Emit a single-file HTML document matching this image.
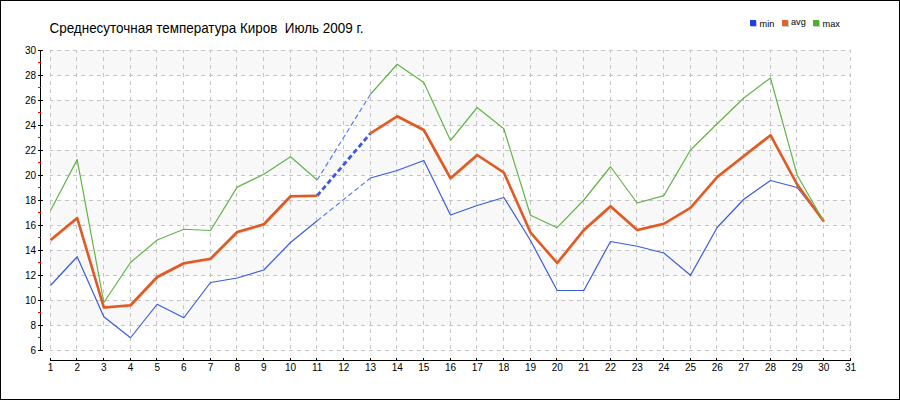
<!DOCTYPE html><html><head><meta charset="utf-8"><style>html,body{margin:0;padding:0;background:#fff}body{width:900px;height:400px;overflow:hidden;position:relative}svg{display:block}text{font-family:"Liberation Sans",sans-serif}</style></head><body>
<svg width="900" height="400" viewBox="0 0 900 400">
<rect x="0" y="0" width="900" height="400" fill="#fff"/>
<rect x="0.5" y="0.5" width="899" height="399" fill="none" stroke="#000" stroke-width="1" shape-rendering="crispEdges"/>
<rect x="50" y="50" width="800" height="25" fill="#f8f8f8" shape-rendering="crispEdges"/>
<rect x="50" y="100" width="800" height="25" fill="#f8f8f8" shape-rendering="crispEdges"/>
<rect x="50" y="150" width="800" height="25" fill="#f8f8f8" shape-rendering="crispEdges"/>
<rect x="50" y="200" width="800" height="25" fill="#f8f8f8" shape-rendering="crispEdges"/>
<rect x="50" y="250" width="800" height="25" fill="#f8f8f8" shape-rendering="crispEdges"/>
<rect x="50" y="300" width="800" height="25" fill="#f8f8f8" shape-rendering="crispEdges"/>
<path d="M50,50.5H851M50,75.5H851M50,100.5H851M50,125.5H851M50,150.5H851M50,175.5H851M50,200.5H851M50,225.5H851M50,250.5H851M50,275.5H851M50,300.5H851M50,325.5H851M50,350.5H851M50.5,50V351M76.5,50V351M103.5,50V351M130.5,50V351M156.5,50V351M183.5,50V351M210.5,50V351M236.5,50V351M263.5,50V351M290.5,50V351M316.5,50V351M343.5,50V351M370.5,50V351M396.5,50V351M423.5,50V351M450.5,50V351M476.5,50V351M503.5,50V351M530.5,50V351M556.5,50V351M583.5,50V351M610.5,50V351M636.5,50V351M663.5,50V351M690.5,50V351M716.5,50V351M743.5,50V351M770.5,50V351M796.5,50V351M823.5,50V351M850.5,50V351" stroke="#c4c4c4" stroke-width="1" stroke-dasharray="4 4" stroke-dashoffset="1" fill="none" shape-rendering="crispEdges"/>
<rect x="40" y="40" width="10" height="10" fill="#fff"/>
<path d="M40.5,50V351M38,50.5H43M38,75.5H43M38,100.5H43M38,125.5H43M38,150.5H43M38,175.5H43M38,200.5H43M38,225.5H43M38,250.5H43M38,275.5H43M38,300.5H43M38,325.5H43M38,350.5H43" stroke="#000" stroke-width="1" fill="none" shape-rendering="crispEdges"/>
<path d="M38,62.5H41M38,87.5H41M38,112.5H41M38,137.5H41M38,162.5H41M38,187.5H41M38,212.5H41M38,237.5H41M38,262.5H41M38,287.5H41M38,312.5H41M38,337.5H41" stroke="#f00" stroke-width="1" fill="none" shape-rendering="crispEdges"/>
<path d="M50,360.5H851M50.5,358V361M76.5,358V361M103.5,358V361M130.5,358V361M156.5,358V361M183.5,358V361M210.5,358V361M236.5,358V361M263.5,358V361M290.5,358V361M316.5,358V361M343.5,358V361M370.5,358V361M396.5,358V361M423.5,358V361M450.5,358V361M476.5,358V361M503.5,358V361M530.5,358V361M556.5,358V361M583.5,358V361M610.5,358V361M636.5,358V361M663.5,358V361M690.5,358V361M716.5,358V361M743.5,358V361M770.5,358V361M796.5,358V361M823.5,358V361M850.5,358V361" stroke="#000" stroke-width="1" fill="none" shape-rendering="crispEdges"/>
<text x="36" y="53.5" font-size="10" text-anchor="end" fill="#000">30</text>
<text x="36" y="78.5" font-size="10" text-anchor="end" fill="#000">28</text>
<text x="36" y="103.5" font-size="10" text-anchor="end" fill="#000">26</text>
<text x="36" y="128.5" font-size="10" text-anchor="end" fill="#000">24</text>
<text x="36" y="153.5" font-size="10" text-anchor="end" fill="#000">22</text>
<text x="36" y="178.5" font-size="10" text-anchor="end" fill="#000">20</text>
<text x="36" y="203.5" font-size="10" text-anchor="end" fill="#000">18</text>
<text x="36" y="228.5" font-size="10" text-anchor="end" fill="#000">16</text>
<text x="36" y="253.5" font-size="10" text-anchor="end" fill="#000">14</text>
<text x="36" y="278.5" font-size="10" text-anchor="end" fill="#000">12</text>
<text x="36" y="303.5" font-size="10" text-anchor="end" fill="#000">10</text>
<text x="36" y="328.5" font-size="10" text-anchor="end" fill="#000">8</text>
<text x="36" y="353.5" font-size="10" text-anchor="end" fill="#000">6</text>
<text x="50.5" y="371" font-size="10" text-anchor="middle" fill="#000">1</text>
<text x="77.2" y="371" font-size="10" text-anchor="middle" fill="#000">2</text>
<text x="103.8" y="371" font-size="10" text-anchor="middle" fill="#000">3</text>
<text x="130.5" y="371" font-size="10" text-anchor="middle" fill="#000">4</text>
<text x="157.2" y="371" font-size="10" text-anchor="middle" fill="#000">5</text>
<text x="183.8" y="371" font-size="10" text-anchor="middle" fill="#000">6</text>
<text x="210.5" y="371" font-size="10" text-anchor="middle" fill="#000">7</text>
<text x="237.2" y="371" font-size="10" text-anchor="middle" fill="#000">8</text>
<text x="263.8" y="371" font-size="10" text-anchor="middle" fill="#000">9</text>
<text x="290.5" y="371" font-size="10" text-anchor="middle" fill="#000">10</text>
<text x="317.2" y="371" font-size="10" text-anchor="middle" fill="#000">11</text>
<text x="343.8" y="371" font-size="10" text-anchor="middle" fill="#000">12</text>
<text x="370.5" y="371" font-size="10" text-anchor="middle" fill="#000">13</text>
<text x="397.2" y="371" font-size="10" text-anchor="middle" fill="#000">14</text>
<text x="423.8" y="371" font-size="10" text-anchor="middle" fill="#000">15</text>
<text x="450.5" y="371" font-size="10" text-anchor="middle" fill="#000">16</text>
<text x="477.2" y="371" font-size="10" text-anchor="middle" fill="#000">17</text>
<text x="503.8" y="371" font-size="10" text-anchor="middle" fill="#000">18</text>
<text x="530.5" y="371" font-size="10" text-anchor="middle" fill="#000">19</text>
<text x="557.2" y="371" font-size="10" text-anchor="middle" fill="#000">20</text>
<text x="583.8" y="371" font-size="10" text-anchor="middle" fill="#000">21</text>
<text x="610.5" y="371" font-size="10" text-anchor="middle" fill="#000">22</text>
<text x="637.2" y="371" font-size="10" text-anchor="middle" fill="#000">23</text>
<text x="663.8" y="371" font-size="10" text-anchor="middle" fill="#000">24</text>
<text x="690.5" y="371" font-size="10" text-anchor="middle" fill="#000">25</text>
<text x="717.2" y="371" font-size="10" text-anchor="middle" fill="#000">26</text>
<text x="743.8" y="371" font-size="10" text-anchor="middle" fill="#000">27</text>
<text x="770.5" y="371" font-size="10" text-anchor="middle" fill="#000">28</text>
<text x="797.2" y="371" font-size="10" text-anchor="middle" fill="#000">29</text>
<text x="823.8" y="371" font-size="10" text-anchor="middle" fill="#000">30</text>
<text x="850.5" y="371" font-size="10" text-anchor="middle" fill="#000">31</text>
<text x="49.5" y="33" font-size="14.2" textLength="314" lengthAdjust="spacingAndGlyphs" fill="#000" xml:space="preserve">Среднесуточная температура Киров  Июль 2009 г.</text>
<rect x="751" y="21" width="6" height="6" fill="#c8c8c8"/><rect x="750" y="20" width="6" height="6" fill="#1f3fe0"/>
<text x="759.5" y="27" font-size="9.2" fill="#000">min</text>
<rect x="783" y="21" width="6" height="6" fill="#c8c8c8"/><rect x="782" y="20" width="6" height="6" fill="#e0642c"/>
<text x="791" y="25" font-size="9.2" fill="#000">avg</text>
<rect x="814" y="21" width="6" height="6" fill="#c8c8c8"/><rect x="813" y="20" width="6" height="6" fill="#4fae2c"/>
<text x="822.5" y="27" font-size="9.2" fill="#000">max</text>
<polyline points="50.50,285.50 77.17,256.75 103.83,316.75 130.50,337.75 157.17,304.25 183.83,317.75 210.50,282.50 237.17,278.00 263.83,270.00 290.50,242.50 317.17,220.75" fill="none" stroke="#3a5cdc" stroke-width="1.2" stroke-linejoin="round"/>
<polyline points="370.50,178.00 397.17,170.50 423.83,160.50 450.50,215.00 477.17,205.50 503.83,197.50 530.50,240.50 557.17,290.50 583.83,290.50 610.50,241.50 637.17,246.25 663.83,253.00 690.50,275.25 717.17,227.50 743.83,199.25 770.50,180.50 797.17,187.50 823.83,221.50" fill="none" stroke="#3a5cdc" stroke-width="1.2" stroke-linejoin="round"/>
<line x1="317.17" y1="220.75" x2="370.50" y2="178" stroke="#5677ec" stroke-width="1.15" stroke-dasharray="5 3"/>
<line x1="317.17" y1="180" x2="370.50" y2="94.25" stroke="#5677ec" stroke-width="1.15" stroke-dasharray="5 3"/>
<line x1="317.17" y1="195.75" x2="370.50" y2="133.25" stroke="#3d58e4" stroke-width="2.8" stroke-dasharray="5 3"/>
<polyline transform="translate(0.5,0.7)" points="50.50,240.00 77.17,218.00 103.83,307.50 130.50,305.25 157.17,277.00 183.83,263.25 210.50,258.75 237.17,232.00 263.83,224.25 290.50,196.25 317.17,195.75" fill="none" stroke="#f6cdbb" stroke-width="2" stroke-linejoin="round"/>
<polyline points="50.50,240.00 77.17,218.00 103.83,307.50 130.50,305.25 157.17,277.00 183.83,263.25 210.50,258.75 237.17,232.00 263.83,224.25 290.50,196.25 317.17,195.75" fill="none" stroke="#e05a24" stroke-width="2.6" stroke-linejoin="round"/>
<polyline transform="translate(0.5,0.7)" points="370.50,133.25 397.17,116.25 423.83,130.00 450.50,178.25 477.17,155.00 503.83,172.50 530.50,232.50 557.17,263.00 583.83,230.00 610.50,206.25 637.17,230.00 663.83,223.75 690.50,207.75 717.17,177.00 743.83,155.90 770.50,135.20 797.17,184.50 823.83,221.50" fill="none" stroke="#f6cdbb" stroke-width="2" stroke-linejoin="round"/>
<polyline points="370.50,133.25 397.17,116.25 423.83,130.00 450.50,178.25 477.17,155.00 503.83,172.50 530.50,232.50 557.17,263.00 583.83,230.00 610.50,206.25 637.17,230.00 663.83,223.75 690.50,207.75 717.17,177.00 743.83,155.90 770.50,135.20 797.17,184.50 823.83,221.50" fill="none" stroke="#e05a24" stroke-width="2.6" stroke-linejoin="round"/>
<polyline points="50.50,210.50 77.17,159.60 103.83,302.50 130.50,262.50 157.17,240.00 183.83,229.25 210.50,230.50 237.17,187.10 263.83,174.25 290.50,156.75 317.17,180.00" fill="none" stroke="#62b44a" stroke-width="1.2" stroke-linejoin="round"/>
<polyline points="370.50,94.25 397.17,64.25 423.83,82.50 450.50,140.50 477.17,107.50 503.83,128.75 530.50,215.30 557.17,227.70 583.83,200.00 610.50,166.75 637.17,203.00 663.83,195.60 690.50,150.00 717.17,123.75 743.83,98.00 770.50,78.00 797.17,175.20 823.83,221.50" fill="none" stroke="#62b44a" stroke-width="1.2" stroke-linejoin="round"/>
</svg></body></html>
